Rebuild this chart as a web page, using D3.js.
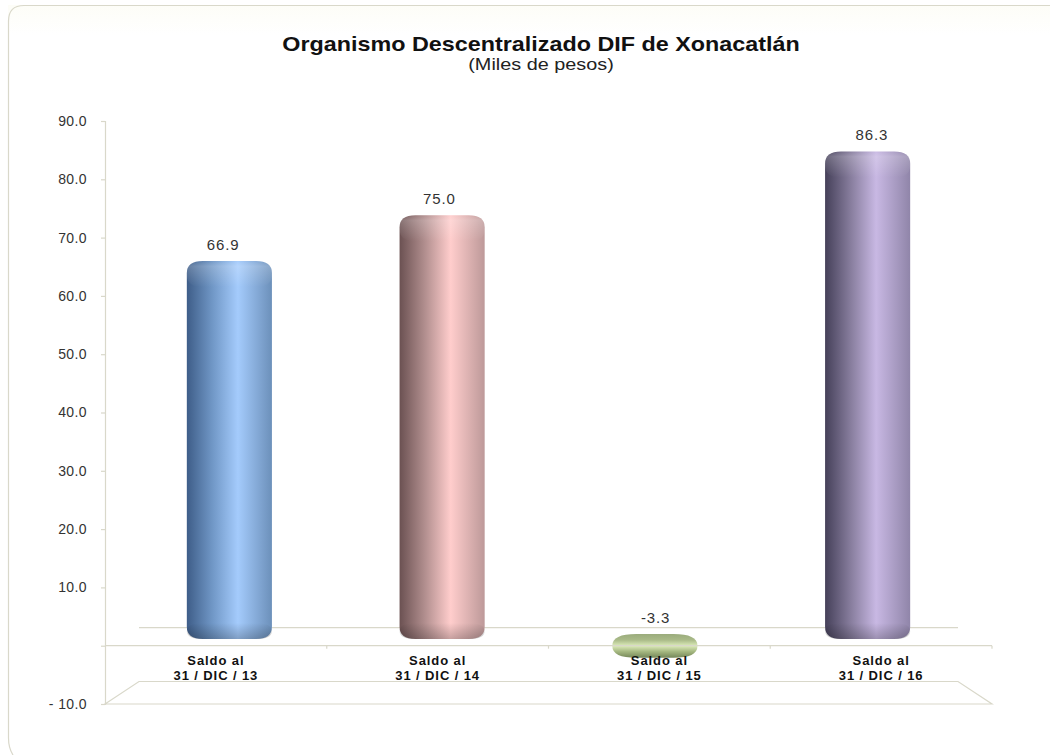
<!DOCTYPE html>
<html>
<head>
<meta charset="utf-8">
<script src="https://cdn.jsdelivr.net/npm/d3@7"></script>
<style>
    html, body { margin: 0; padding: 0; background: #fff; }
    svg { display: block; }
    text { font-family: "Liberation Sans", Arial, sans-serif; }
</style>
</head>
<body>
<div id="chart"></div>
<script>
const categories = ["13", "14", "15", "16"];
const values = [66.9, 75.0, -3.3, 86.3];
const valueLabels = ["66.9", "75.0", "-3.3", "86.3"];
const yTicks = [90, 80, 70, 60, 50, 40, 30, 20, 10, 0, -10];
const title = "Organismo Descentralizado DIF de Xonacatlán";
const subtitle = "(Miles de pesos)";

const width = 1050;
const height = 755;
const lineColor = "#d9d8ca";

// one color ramp per bar, left to right
const ramps = [
    ["#3e5d88", "#7097c6", "#a4cbfc", "#6c90ba"],
    ["#6b5152", "#b28f8f", "#ffcdcc", "#bd9999"],
    ["#8a9c68", "#b4c58e", "#cfdfa8", "#8fa26c"],
    ["#454059", "#877d9d", "#c8b8e3", "#9085a9"]
];

const svg = d3.select("#chart").append("svg")
    .attr("width", width)
    .attr("height", height);

const defs = svg.append("defs");

ramps.forEach((r, i) => {
    const g = defs.append("linearGradient").attr("id", `ramp-${i}`);
    [0, 0.3, 0.6, 1].forEach((o, j) => {
        g.append("stop").attr("offset", o).attr("stop-color", r[j]);
    });
});

const topShade = defs.append("linearGradient").attr("id", "top-shade").attr("x2", 0).attr("y2", 1);
topShade.append("stop").attr("offset", 0).attr("stop-color", "#fff").attr("stop-opacity", 0.04);
topShade.append("stop").attr("offset", 0.2).attr("stop-color", "#fff").attr("stop-opacity", 0.2);
topShade.append("stop").attr("offset", 1).attr("stop-color", "#fff").attr("stop-opacity", 0);

const bottomShade = defs.append("linearGradient").attr("id", "bottom-shade").attr("x2", 0).attr("y2", 1);
bottomShade.append("stop").attr("offset", 0).attr("stop-color", "#000").attr("stop-opacity", 0);
bottomShade.append("stop").attr("offset", 1).attr("stop-color", "#000").attr("stop-opacity", 0.22);

const discShade = defs.append("linearGradient").attr("id", "disc-shade").attr("x2", 0).attr("y2", 1);
[["#9aab7c", 0], ["#a9ba88", 0.25], ["#dcebb9", 0.5], ["#a3b67f", 0.75], ["#76885a", 1]].forEach(([c, o]) => {
    discShade.append("stop").attr("offset", o).attr("stop-color", c);
});

const cardShade = defs.append("linearGradient").attr("id", "card-shade").attr("x2", 0).attr("y2", 1);
cardShade.append("stop").attr("offset", 0).attr("stop-color", "#fdfdf7");
cardShade.append("stop").attr("offset", 1).attr("stop-color", "#fff");

// card behind the chart, only top and left edges show
svg.append("rect").attr("x", 8).attr("y", 5).attr("width", 1042).attr("height", 30)
    .attr("fill", "url(#card-shade)");
svg.append("path")
    .attr("d", "M1050,5.5H24Q8.5,5.5 8.5,21V738Q8.5,748 13,755")
    .attr("fill", "none")
    .attr("stroke", lineColor)
    .attr("stroke-width", 1.2);

const y = d3.scaleLinear().domain([-10, 90]).range([704, 121]);
const yBar = d3.scaleLinear().domain([-10, 90]).range([695.5, 130.5]);
const xFront = d3.scaleBand().domain(categories).range([105, 992]);
const xBar = d3.scaleBand().domain(categories).range([123, 974]).paddingInner(0.6).paddingOuter(0.3);
const xLabel = d3.scaleBand().domain(categories).range([115, 980]);

// back and floor of the 3d box
const box = svg.append("g").attr("fill", "none").attr("stroke", lineColor).attr("stroke-width", 1.2);
const backX0 = xFront.range()[0] + 34;
const backX1 = xFront.range()[1] - 34;
box.append("line").attr("x1", backX0).attr("x2", backX1).attr("y1", yBar(2)).attr("y2", yBar(2));
box.append("path").attr("d", `M${xFront.range()[0]},${y(-10)}L${backX0},${y(-10) - 22.5}H${backX1}L${xFront.range()[1]},${y(-10)}Z`);

const yAxis = d3.axisLeft(y)
    .tickValues(yTicks)
    .tickSize(4)
    .tickPadding(14)
    .tickFormat(d => d === 0 ? "" : d < 0 ? `- ${Math.abs(d).toFixed(1)}` : d.toFixed(1));

const yAxisG = svg.append("g").attr("transform", `translate(${xFront.range()[0]},0)`).call(yAxis);
yAxisG.selectAll("path, line").attr("stroke", lineColor).attr("stroke-width", 1.2);
yAxisG.selectAll("text")
    .attr("font-family", null)
    .attr("font-size", 14)
    .attr("letter-spacing", 0.4)
    .attr("fill", "#333");

function barShape(x, top, w, bottom, rx, ry) {
    return `M${x},${top + ry}Q${x},${top} ${x + rx},${top}H${x + w - rx}Q${x + w},${top} ${x + w},${top + ry}` +
        `V${bottom - ry}Q${x + w},${bottom} ${x + w - rx},${bottom}H${x + rx}Q${x},${bottom} ${x},${bottom - ry}Z`;
}

const bars = svg.append("g").selectAll("g")
    .data(values)
    .join("g");

bars.each(function (v, i) {
    const g = d3.select(this);
    const x = xBar(categories[i]);
    const w = xBar.bandwidth();

    if (v < 0) {
        // negative bar comes out as a flat disc
        const top = yBar(0) - 5;
        const bottom = yBar(v);
        g.append("path")
            .attr("d", barShape(x, top, w, bottom, 24, 11.5))
            .attr("fill", "url(#disc-shade)");
        return;
    }

    const top = yBar(v);
    const bottom = yBar(0);
    g.append("path")
        .attr("d", barShape(x, top, w, bottom, 16, 12))
        .attr("fill", `url(#ramp-${i})`);
    g.append("path")
        .attr("d", barShape(x, top, w, top + 26, 16, 12))
        .attr("fill", "url(#top-shade)");
    g.append("path")
        .attr("d", barShape(x, bottom - 16, w, bottom, 16, 8))
        .attr("fill", "url(#bottom-shade)");
});

// front edge of the floor sits over the bars
const xAxisLine = svg.append("g").attr("stroke", lineColor).attr("stroke-width", 1.2);
xAxisLine.append("line")
    .attr("x1", xFront.range()[0]).attr("x2", xFront.range()[1])
    .attr("y1", y(0)).attr("y2", y(0));
xAxisLine.selectAll("line.tick")
    .data(categories)
    .join("line")
    .attr("class", "tick")
    .attr("x1", d => xFront(d) + xFront.bandwidth())
    .attr("x2", d => xFront(d) + xFront.bandwidth())
    .attr("y1", y(0))
    .attr("y2", y(0) + 3);

const xAxisG = svg.append("g")
    .attr("transform", `translate(0,${y(0)})`)
    .call(d3.axisBottom(xFront).tickSize(0).tickFormat(""));
xAxisG.select(".domain").remove();
xAxisG.selectAll(".tick text").each(function (d) {
    const t = d3.select(this)
        .attr("font-family", null)
        .attr("font-size", 13)
        .attr("font-weight", "bold")
        .attr("letter-spacing", 0.9)
        .attr("fill", "#111")
        .attr("y", 0)
        .attr("dy", null);
    t.append("tspan").attr("x", 0).attr("y", 19).text("Saldo al");
    t.append("tspan").attr("x", 0).attr("y", 34).text(`31 / DIC / ${d}`);
});

svg.append("g").selectAll("text")
    .data(values)
    .join("text")
    .attr("x", (d, i) => xLabel(categories[i]) + xLabel.bandwidth() / 2)
    .attr("y", d => (d < 0 ? yBar(0) - 5 : yBar(d)) - 11)
    .attr("text-anchor", "middle")
    .attr("font-size", 15)
    .attr("letter-spacing", 0.9)
    .attr("fill", "#333")
    .text((d, i) => valueLabels[i]);

// title text in the reference is stretched sideways
svg.append("text")
    .attr("transform", "translate(541,51) scale(1.197,1)")
    .attr("text-anchor", "middle")
    .attr("font-size", 19.5)
    .attr("font-weight", "bold")
    .attr("fill", "#111")
    .text(title);

svg.append("text")
    .attr("transform", "translate(541,70) scale(1.24,1)")
    .attr("text-anchor", "middle")
    .attr("font-size", 16)
    .attr("fill", "#222")
    .text(subtitle);
</script>
</body>
</html>
